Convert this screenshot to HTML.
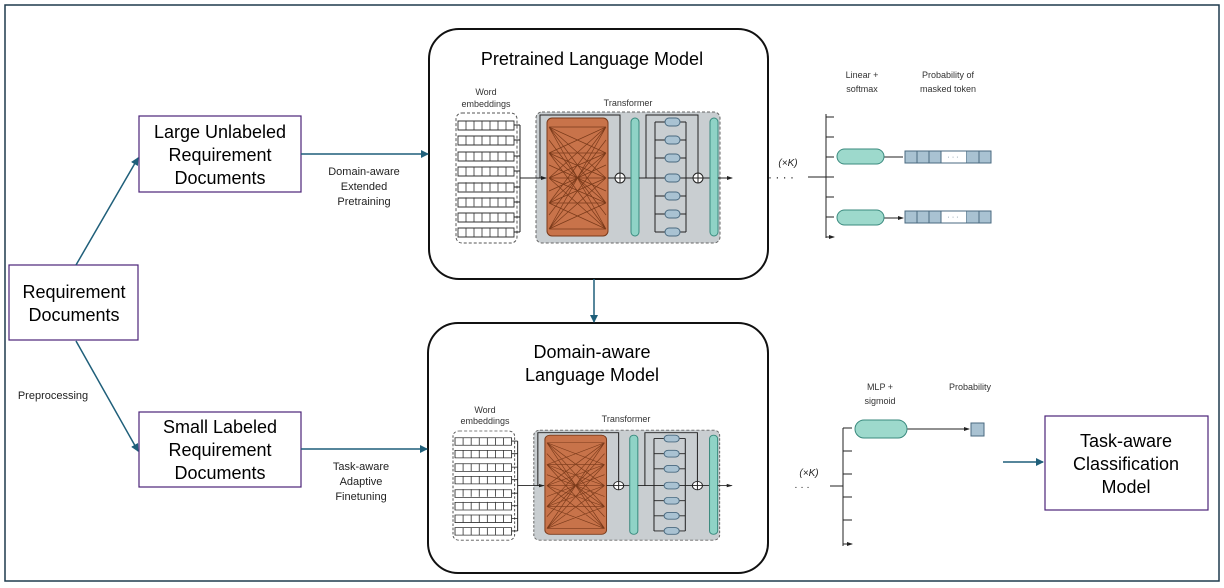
<!DOCTYPE html>
<html><head><meta charset="utf-8"><style>body{margin:0;background:#fff}svg{display:block}text{font-family:"Liberation Sans",sans-serif}</style></head><body>
<svg width="1224" height="588" viewBox="0 0 1224 588" xmlns="http://www.w3.org/2000/svg">
<defs>
<marker id="a" markerWidth="8" markerHeight="8" refX="7" refY="4" orient="auto" markerUnits="userSpaceOnUse"><path d="M0,0L8,4L0,8z" fill="#1f5f7a"/></marker>
<marker id="k" markerWidth="6" markerHeight="6" refX="5" refY="3" orient="auto" markerUnits="userSpaceOnUse"><path d="M0,1L6,3L0,5z" fill="#222"/></marker>
<g id="tf">
<rect x="0" y="0" width="61" height="130" rx="6" fill="#fff" stroke="#555" stroke-dasharray="3,2"/>
<g fill="#fff" stroke="#333" stroke-width="0.9">
<path d="M2 8h56v9H2zM2 23h56v9H2zM2 39h56v9H2zM2 54h56v9H2zM2 70h56v9H2zM2 85h56v9H2zM2 100h56v9H2zM2 115h56v9H2z"/>
</g>
<path d="M10 8v116M18 8v116M26 8v116M34 8v116M42 8v116M50 8v116" stroke="#333" stroke-width="0.8" stroke-dasharray="9,6.2,9,6.4"/>
<path d="M58 12h6M58 27h6M58 43h6M58 58h6M58 74h6M58 89h6M58 104h6M58 119h6M64 12v107" stroke="#222" fill="none"/>
<rect x="80" y="-1" width="184" height="131" rx="6" fill="#c9ced1" stroke="#666" stroke-dasharray="3,2"/>
<path d="M64 65h26" stroke="#222" marker-end="url(#k)"/>
<rect x="91" y="5" width="61" height="118" rx="5" fill="#c8734a" stroke="#7a3a1a"/>
<path d="M93 14L150 14M93 14L150 40M93 14L150 65M93 14L150 90M93 14L150 116M93 40L150 14M93 40L150 40M93 40L150 65M93 40L150 90M93 40L150 116M93 65L150 14M93 65L150 40M93 65L150 65M93 65L150 90M93 65L150 116M93 90L150 14M93 90L150 40M93 90L150 65M93 90L150 90M93 90L150 116M93 116L150 14M93 116L150 40M93 116L150 65M93 116L150 90M93 116L150 116M93 27L150 102M93 102L150 27M93 52L150 78M93 78L150 52" stroke="#7a3a1a" stroke-width="0.7"/>
<path d="M84 65V2h80v58M152 65h7" stroke="#222" fill="none"/>
<circle cx="164" cy="65" r="5" fill="#fff" stroke="#222"/><path d="M159 65h10M164 60v10" stroke="#222"/>
<path d="M169 65h6" stroke="#222"/>
<rect x="175" y="5" width="8" height="118" rx="4" fill="#8fd3c6" stroke="#3a8a7e"/>
<path d="M183 65h16M190 65V2h52v58M199 9v110M230 9v110M199 9h10M199 27h10M199 45h10M199 65h10M199 83h10M199 101h10M199 119h10M224 9h6M224 27h6M224 45h6M224 65h6M224 83h6M224 101h6M224 119h6M230 65h7M247 65h7" stroke="#222" fill="none"/>
<g fill="#a9c2d2" stroke="#4a6a80"><rect x="209" y="5" width="15" height="8" rx="4"/><rect x="209" y="23" width="15" height="8" rx="4"/><rect x="209" y="41" width="15" height="8" rx="4"/><rect x="209" y="61" width="15" height="8" rx="4"/><rect x="209" y="79" width="15" height="8" rx="4"/><rect x="209" y="97" width="15" height="8" rx="4"/><rect x="209" y="115" width="15" height="8" rx="4"/></g>
<circle cx="242" cy="65" r="5" fill="#fff" stroke="#222"/><path d="M237 65h10M242 60v10" stroke="#222"/>
<rect x="254" y="5" width="8" height="118" rx="4" fill="#8fd3c6" stroke="#3a8a7e"/>
<path d="M262 65h14" stroke="#222" marker-end="url(#k)"/>
</g>
</defs>
<rect x="5" y="5" width="1214" height="576" fill="none" stroke="#1f3a4d" stroke-width="1.5"/>
<!-- boxes -->
<g fill="#fff" stroke="#4b2378" stroke-width="1.2">
<rect x="139" y="116" width="162" height="76"/><rect x="9" y="265" width="129" height="75"/><rect x="139" y="412" width="162" height="75"/><rect x="1045" y="416" width="163" height="94"/>
</g>
<g font-size="18" text-anchor="middle" fill="#000">
<text x="220" y="138">Large Unlabeled</text><text x="220" y="161">Requirement</text><text x="220" y="184">Documents</text>
<text x="74" y="298">Requirement</text><text x="74" y="321">Documents</text>
<text x="220" y="433">Small Labeled</text><text x="220" y="456">Requirement</text><text x="220" y="479">Documents</text>
<text x="1126" y="447">Task-aware</text><text x="1126" y="470">Classification</text><text x="1126" y="493">Model</text>
</g>
<rect x="429" y="29" width="339" height="250" rx="30" fill="#fff" stroke="#111" stroke-width="2"/>
<rect x="428" y="323" width="340" height="250" rx="30" fill="#fff" stroke="#111" stroke-width="2"/>
<g font-size="18" text-anchor="middle"><text x="592" y="65">Pretrained Language Model</text><text x="592" y="358">Domain-aware</text><text x="592" y="381">Language Model</text></g>
<!-- arrows -->
<g stroke="#1f5f7a" stroke-width="1.5" fill="none" marker-end="url(#a)">
<path d="M76 265L138 158"/><path d="M76 341L138 451"/><path d="M301 154H428"/><path d="M301 449H427"/><path d="M594 279V322"/><path d="M1003 462H1043"/>
</g>
<g font-size="11" text-anchor="middle" fill="#222">
<text x="364" y="175">Domain-aware</text><text x="364" y="190">Extended</text><text x="364" y="205">Pretraining</text>
<text x="361" y="470">Task-aware</text><text x="361" y="485">Adaptive</text><text x="361" y="500">Finetuning</text>
<text x="53" y="399">Preprocessing</text>
</g>
<!-- transformers -->
<use href="#tf" transform="translate(456,113)"/>
<use href="#tf" transform="translate(453,431) scale(1.01,0.84)"/>
<g font-size="9" text-anchor="middle" fill="#333">
<text x="486" y="95">Word</text><text x="486" y="107">embeddings</text><text x="628" y="106">Transformer</text>
<text x="485" y="413">Word</text><text x="485" y="424">embeddings</text><text x="626" y="422">Transformer</text>
<text x="862" y="78">Linear +</text><text x="862" y="92">softmax</text><text x="948" y="78">Probability of</text><text x="948" y="92">masked token</text>
<text x="880" y="390">MLP +</text><text x="880" y="404">sigmoid</text><text x="970" y="390">Probability</text>
</g>
<!-- top head -->
<g font-size="10" fill="#222" font-style="italic" text-anchor="middle"><text x="788" y="166">(×K)</text><text x="809" y="476">(×K)</text></g>
<text x="781" y="181" font-size="12" text-anchor="middle" fill="#222">· · · ·</text>
<text x="802" y="490" font-size="10" text-anchor="middle" fill="#222">· · ·</text>
<g stroke="#222" fill="none">
<path d="M808 177H826M826 114V238"/>
<path d="M826 117h8M826 137h8M826 157h8M826 177h8M826 197h8M826 217h8M826 237h8" marker-end="url(#k)"/>
<path d="M884 157h19M884 218h19" marker-end="url(#k)"/>
<path d="M830 486H843M843 428V546"/>
<path d="M843 428h9M843 451h9M843 474h9M843 497h9M843 520h9M843 544h9" marker-end="url(#k)"/>
<path d="M907 429h62" marker-end="url(#k)"/>
</g>
<g fill="#9dd9cc" stroke="#3a8a7e"><rect x="837" y="149" width="47" height="15" rx="7.5"/><rect x="837" y="210" width="47" height="15" rx="7.5"/><rect x="855" y="420" width="52" height="18" rx="9"/></g>
<g stroke="#4a6a80" fill="#a9c2d2">
<path d="M905 151h86v12h-86zM905 211h86v12h-86z"/>
<path d="M917 151v12M929 151v12M941 151v12M966 151v12M979 151v12M917 211v12M929 211v12M941 211v12M966 211v12M979 211v12" fill="none"/>
<rect x="941.5" y="151.5" width="24.5" height="11" fill="#fff" stroke="none"/><rect x="941.5" y="211.5" width="24.5" height="11" fill="#fff" stroke="none"/>
<rect x="971" y="423" width="13" height="13"/>
</g>
<g font-size="7" fill="#4a6a80" text-anchor="middle"><text x="953" y="159">· · ·</text><text x="953" y="219">· · ·</text></g>
</svg>
</body></html>
